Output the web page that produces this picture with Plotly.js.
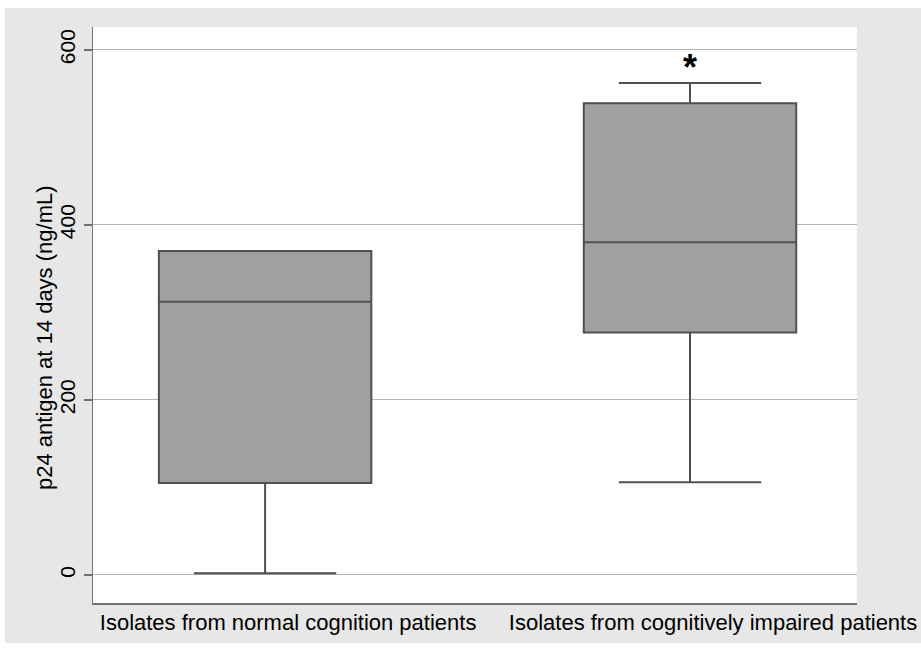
<!DOCTYPE html>
<html>
<head>
<meta charset="utf-8">
<script src="https://cdn.plot.ly/plotly-3.0.1.min.js"></script>
<style>
  html, body { margin: 0; padding: 0; background: #ffffff; }
  #chart { position: absolute; left: 5px; top: 8px; width: 916px; height: 635px; }
</style>
</head>
<body>
<div id="chart"></div>
<script>
// ---- data ----
const groups = ["Isolates from normal cognition patients", "Isolates from cognitively impaired patients"];
const lowerWhisker = [2, 106];
const q1Values = [105, 277];
const medianValues = [312, 380];
const q3Values = [370, 539];
const upperWhisker = [370, 562];
const yTicks = [0, 200, 400, 600];
const significanceMark = "*";
const yTitle = "p24 antigen at 14 days (ng/mL)";

const trace = {
  type: "box",
  x: groups,
  q1: q1Values,
  median: medianValues,
  q3: q3Values,
  lowerfence: lowerWhisker,
  upperfence: upperWhisker,
  boxpoints: false,
  width: 0.5,
  whiskerwidth: 0.67,
  fillcolor: "#a0a0a0",
  line: { color: "#505050", width: 2 },
  hoverinfo: "skip",
  showlegend: false
};

const layout = {
  width: 916,
  height: 635,
  margin: { l: 88, r: 64, t: 19, b: 40, pad: 0 },
  paper_bgcolor: "#e7e7e7",
  plot_bgcolor: "#ffffff",
  font: { family: "Arial, 'Liberation Sans', Helvetica, sans-serif", color: "#000000" },
  showlegend: false,
  xaxis: {
    type: "category",
    range: [-0.405, 1.393],
    showgrid: false,
    zeroline: false,
    showline: true,
    linecolor: "#707070",
    linewidth: 1.5,
    ticks: "",
    tickfont: { size: 22, color: "#000000" },
    ticklabelshift: 23,
    ticklabelstandoff: -1,
    automargin: false
  },
  yaxis: {
    range: [-32, 626],
    tickvals: yTicks,
    ticktext: yTicks.map(String),
    tickangle: -90,
    ticks: "outside",
    ticklen: 8,
    tickwidth: 1.5,
    tickcolor: "#707070",
    tickfont: { size: 21, color: "#000000" },
    showgrid: true,
    gridcolor: "#b5b5b5",
    gridwidth: 1,
    zeroline: false,
    showline: true,
    linecolor: "#707070",
    linewidth: 1.5,
    automargin: false
  },
  annotations: [{
    x: groups[1],
    y: 580,
    xref: "x",
    yref: "y",
    text: "<b>" + significanceMark + "</b>",
    showarrow: false,
    font: { size: 36, color: "#000000" },
    xanchor: "center",
    yanchor: "middle"
  }, {
    x: 0,
    y: 0.5,
    xref: "paper",
    yref: "paper",
    xshift: -49,
    yshift: -23,
    text: yTitle,
    textangle: -90,
    showarrow: false,
    font: { size: 22, color: "#000000" },
    xanchor: "center",
    yanchor: "middle"
  }]
};

Plotly.newPlot("chart", [trace], layout, { displayModeBar: false, staticPlot: true });
</script>
</body>
</html>
